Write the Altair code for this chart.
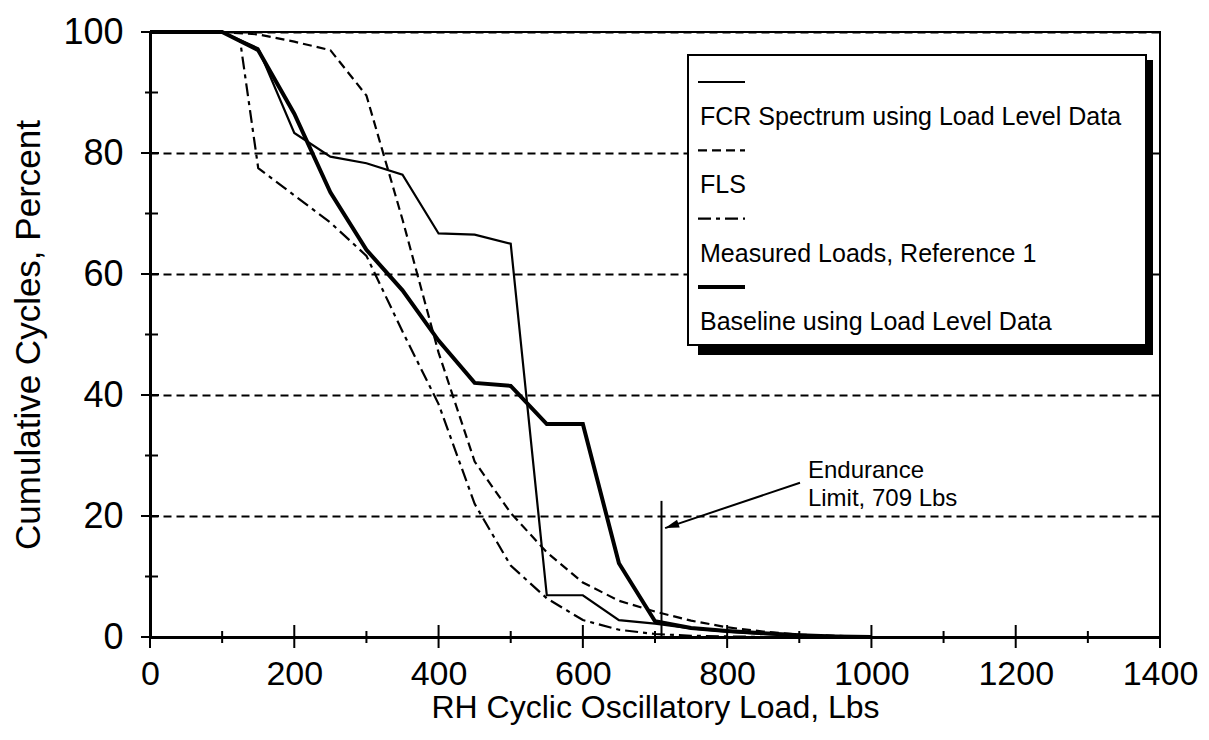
import math
import altair as alt
import pandas as pd

# ---------------- data ----------------
X_MAJOR = [0, 200, 400, 600, 800, 1000, 1200, 1400]
X_MINOR = [100, 300, 500, 700, 900, 1100, 1300]
Y_MAJOR = [0, 20, 40, 60, 80, 100]
Y_MINOR = [10, 30, 50, 70, 90]

SERIES = [
    "FCR Spectrum using Load Level Data",
    "FLS",
    "Measured Loads, Reference 1",
    "Baseline using Load Level Data",
]

LOADS = [0, 50, 100, 150, 200, 250, 300, 350, 400, 450, 500,
         550, 600, 650, 700, 750, 800, 850, 900, 950, 1000]
FCR_PCT = [100, 100, 100, 97.3, 83.3, 79.4, 78.3, 76.4, 66.7, 66.5, 65.0,
           6.9, 6.9, 2.8, 2.2, 1.4, 0.9, 0.5, 0.3, 0.1, 0]
FLS_PCT = [100, 100, 100, 99.6, 98.4, 97.0, 89.5, 69.0, 47.0, 29.0, 20.5,
           14.0, 9.0, 6.0, 4.2, 2.7, 1.6, 0.9, 0.4, 0.2, 0]
MEAS_LOADS = [0, 50, 100, 125, 150, 200, 250, 300, 350, 400, 450, 500,
              550, 600, 650, 700, 750, 800, 850, 900, 950, 1000]
MEAS_PCT = [100, 100, 100, 98.5, 77.5, 73.0, 68.5, 63.0, 50.5, 38.5, 22.0, 11.8,
            6.4, 2.8, 1.2, 0.5, 0.2, 0.1, 0, 0, 0, 0]
BASE_PCT = [100, 100, 100, 97.0, 86.5, 73.5, 64.0, 57.3, 49.0, 42.0, 41.5,
            35.2, 35.2, 12.2, 2.6, 1.5, 1.0, 0.6, 0.3, 0.1, 0]

ENDURANCE_LOAD = 709
ENDURANCE_TOP = 22.5
ENDURANCE_TEXT = ["Endurance", "Limit, 709 Lbs"]
ARROW_TAIL = (901, 25.5)
ARROW_HEAD = (714, 18.0)
TEXT_POS = (912, 26.3)

# ---------------- layout / style ----------------
FONT = "Liberation Sans"
PLOT_W, PLOT_H = 1010, 605
X_MAX, Y_MAX = 1400, 100

x_scale = alt.Scale(domain=[0, X_MAX], nice=False, zero=False)
y_scale = alt.Scale(domain=[0, Y_MAX], nice=False, zero=False)

x_axis = alt.Axis(
    values=X_MAJOR, format="d", title="RH Cyclic Oscillatory Load, Lbs",
    labelFont=FONT, labelFontSize=34, labelColor="black", labelPadding=20,
    labelFlush=False, labelOverlap=False, tickSize=0,
    domainColor="black", domainWidth=3, grid=False,
    titleFont=FONT, titleFontSize=32, titleFontWeight="normal", titleColor="black",
    titleX=PLOT_W / 2, titleY=80, titleBaseline="alphabetic", titleAlign="center",
)
y_axis = alt.Axis(
    values=Y_MAJOR, format="d", title="Cumulative Cycles, Percent",
    labelFont=FONT, labelFontSize=36, labelColor="black", labelPadding=27,
    labelBaseline="middle", labelOverlap=False, labelFlush=False, tickSize=0,
    domainColor="black", domainWidth=3,
    grid=True, gridDash=[8, 5], gridColor="black", gridWidth=2, gridOpacity=1,
    titleFont=FONT, titleFontSize=35, titleFontWeight="normal", titleColor="black",
    titleX=-111, titleY=PLOT_H / 2, titleAngle=270, titleBaseline="alphabetic",
    titleAlign="center",
)

X = alt.X("load:Q", scale=x_scale, axis=x_axis)
Y = alt.Y("pct:Q", scale=y_scale, axis=y_axis)

STYLES = [
    dict(strokeWidth=2.2),
    dict(strokeWidth=2.2, strokeDash=[9, 5]),
    dict(strokeWidth=2.2, strokeDash=[13, 5, 4, 5]),
    dict(strokeWidth=4),
]
SERIES_DATA = [
    (LOADS, FCR_PCT),
    (LOADS, FLS_PCT),
    (MEAS_LOADS, MEAS_PCT),
    (LOADS, BASE_PCT),
]

layers = []

# data lines
for name, (xs, ys), st in zip(SERIES, SERIES_DATA, STYLES):
    df = pd.DataFrame({"load": xs, "pct": ys, "series": name})
    layers.append(
        alt.Chart(df).mark_line(color="black", strokeCap="butt", strokeJoin="miter", **st)
        .encode(x=X, y=Y)
    )

# axis ticks crossing the axes
def xticks(vals, up, down):
    return alt.Chart(pd.DataFrame({"load": vals})).mark_rule(color="black", strokeWidth=2).encode(
        x=X, y=alt.value(PLOT_H - up), y2=alt.value(PLOT_H + down))

def yticks(vals, left, right):
    return alt.Chart(pd.DataFrame({"pct": vals})).mark_rule(color="black", strokeWidth=2).encode(
        y=Y, x=alt.value(-left), x2=alt.value(right))

layers += [xticks(X_MAJOR, 12, 11), xticks(X_MINOR, 6, 6),
           yticks(Y_MAJOR, 9, 9), yticks(Y_MINOR, 5, 8)]

# endurance limit line
end_df = pd.DataFrame({"load": [ENDURANCE_LOAD], "pct": [0], "pct2": [ENDURANCE_TOP]})
layers.append(alt.Chart(end_df).mark_rule(color="black", strokeWidth=2).encode(
    x=X, y=Y, y2="pct2:Q"))

# arrow
arr_df = pd.DataFrame({"load": [ARROW_TAIL[0]], "pct": [ARROW_TAIL[1]],
                       "load2": [ARROW_HEAD[0]], "pct2": [ARROW_HEAD[1]]})
layers.append(alt.Chart(arr_df).mark_rule(color="black", strokeWidth=2).encode(
    x=X, y=Y, x2="load2:Q", y2="pct2:Q"))
dx = (ARROW_HEAD[0] - ARROW_TAIL[0]) * PLOT_W / X_MAX
dy = -(ARROW_HEAD[1] - ARROW_TAIL[1]) * PLOT_H / Y_MAX
angle = math.degrees(math.atan2(dy, dx)) % 360
head_df = pd.DataFrame({"load": [ARROW_HEAD[0]], "pct": [ARROW_HEAD[1]]})
layers.append(alt.Chart(head_df).mark_point(
    shape="M0,0L-2,-0.6L-2,0.6Z", filled=True, color="black", opacity=1,
    size=196, angle=angle, strokeWidth=0).encode(x=X, y=Y))

# endurance text
txt_df = pd.DataFrame({"load": [TEXT_POS[0]], "pct": [TEXT_POS[1]],
                       "label": ["\n".join(ENDURANCE_TEXT)]})
layers.append(alt.Chart(txt_df).mark_text(
    align="left", baseline="alphabetic", font=FONT, fontSize=24, color="black",
    lineBreak="\n", lineHeight=28).encode(x=X, y=Y, text="label:N"))

# custom legend (box with shadow, sample line above each label)
one = alt.Data(values=[{}])
LX0, LX1, LY0, LY1 = 538, 996, 23, 313
layers.append(alt.Chart(one).mark_rect(color="black").encode(
    x=alt.value(LX0 + 10), x2=alt.value(LX1 + 7), y=alt.value(LY0 + 5), y2=alt.value(LY1 + 10)))
layers.append(alt.Chart(one).mark_rect(fill="white", stroke="black", strokeWidth=2).encode(
    x=alt.value(LX0), x2=alt.value(LX1), y=alt.value(LY0), y2=alt.value(LY1)))
ROW = 68.3
for i, (name, st) in enumerate(zip(SERIES, STYLES)):
    ly = 50 + i * ROW
    layers.append(alt.Chart(one).mark_rule(color="black", strokeCap="butt", **st).encode(
        x=alt.value(548), x2=alt.value(595), y=alt.value(ly), y2=alt.value(ly)))
    layers.append(alt.Chart(pd.DataFrame({"label": [name]})).mark_text(
        align="left", baseline="alphabetic", font=FONT, fontSize=25, color="black").encode(
        x=alt.value(550), y=alt.value(ly + 43), text="label:N"))

chart = alt.layer(*layers).properties(
    width=PLOT_W, height=PLOT_H,
    padding={"left": 142, "top": 24, "right": 41, "bottom": 90},
    autosize=alt.AutoSizeParams(type="none"),
    background="white",
).configure_view(stroke="black", strokeWidth=2)

chart.save("out.html", embed_options={"renderer": "svg", "actions": False})
